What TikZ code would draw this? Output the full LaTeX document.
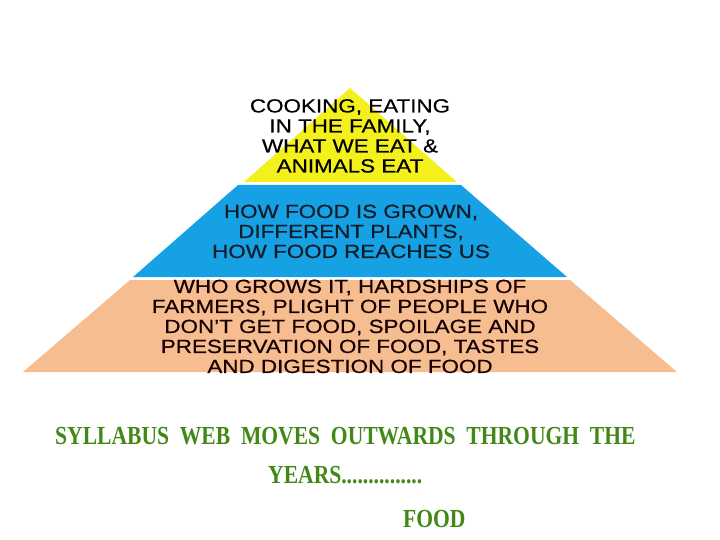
\documentclass[tikz,border=0pt]{standalone}
\usepackage{fontspec}
\usepackage{tikz}
\usetikzlibrary{positioning}
\newfontfamily\pyrfont[FakeStretch=1.18,FakeBold=0.5]{Liberation Sans}
\newfontfamily\capfont[FakeStretch=0.83]{Liberation Serif}
\definecolor{jaune}{RGB}{244,240,28}
\definecolor{bleu}{RGB}{22,161,228}
\definecolor{peche}{RGB}{246,190,144}
\definecolor{vert}{RGB}{66,136,22}
\definecolor{encre}{RGB}{16,28,40}
\tikzstyle{niveau}=[
        align=center,
        anchor=north,
        inner sep=0pt,
        font=\pyrfont\fontsize{19}{20}\selectfont
]
\tikzstyle{legende}=[
        anchor=base west,
        inner sep=0pt,
        text=vert,
        font=\capfont\bfseries\fontsize{26}{30}\selectfont
]

\begin{document}
\begin{tikzpicture}[x=1pt,y=-1pt]
\useasboundingbox (0,0) rectangle (720,540);
%bandesdelapyramide
\fill[jaune] (350,88) -- (457,182) -- (244,182) -- cycle;
\fill[bleu] (238,185) -- (461,185) -- (567,277) -- (133,277) -- cycle;
\fill[peche] (130,280) -- (570,280) -- (677,372) -- (23,372) -- cycle;
\node[niveau,text=black] (haut) at (350,99) {COOKING, EATING\\IN THE FAMILY,\\WHAT WE EAT \&\\ANIMALS EAT};
\node[niveau,text=encre] (milieu) at (351,204.5) {HOW FOOD IS GROWN,\\DIFFERENT PLANTS,\\HOW FOOD REACHES US};
\node[niveau,text=black!90!red] (bas) at (350,279.5) {WHO GROWS IT, HARDSHIPS OF\\FARMERS, PLIGHT OF PEOPLE WHO\\DON’T GET FOOD, SPOILAGE AND\\PRESERVATION OF FOOD, TASTES\\AND DIGESTION OF FOOD};
\node[legende] (titre) at (55,444) {SYLLABUS\ \ WEB\ \ MOVES\ \ OUTWARDS\ \ THROUGH\ \ THE};
\node[legende] (annees) at (268,483) {YEARS...............};
\node[legende] (sujet) at (403,527) {FOOD};
\end{tikzpicture}
\end{document}
